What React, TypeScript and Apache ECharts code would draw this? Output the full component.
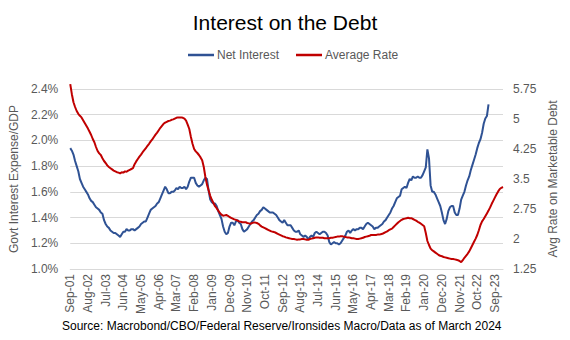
import React, { useEffect, useRef } from "react";
import * as echarts from "echarts";

const MONTHS = ["Jan", "Feb", "Mar", "Apr", "May", "Jun", "Jul", "Aug", "Sep", "Oct", "Nov", "Dec"];
const START_YEAR = 2001;
const START_MONTH = 8; // Sep
const N_MONTHS = 270; // Sep-01 .. Feb-24

const categories: string[] = [];
for (let k = 0; k < N_MONTHS; k++) {
  const m = (START_MONTH + k) % 12;
  const y = START_YEAR + Math.floor((START_MONTH + k) / 12);
  categories.push(`${MONTHS[m]}-${String(y % 100).padStart(2, "0")}`);
}

// Net interest / GDP (%), monthly from Sep-01
const netInterest = [
  1.94, 1.92, 1.89, 1.84, 1.80, 1.76, 1.70, 1.67, 1.64, 1.62, 1.60, 1.58,
  1.55, 1.53, 1.52, 1.50, 1.48, 1.47, 1.46, 1.44, 1.43, 1.38, 1.35, 1.33,
  1.32, 1.30, 1.29, 1.28, 1.28, 1.27, 1.26, 1.25, 1.27, 1.29, 1.29, 1.31,
  1.30, 1.30, 1.31, 1.31, 1.30, 1.31, 1.32, 1.33, 1.35, 1.36, 1.37, 1.37,
  1.40, 1.43, 1.46, 1.47, 1.48, 1.49, 1.51, 1.52, 1.55, 1.58, 1.61, 1.64,
  1.62, 1.59, 1.59, 1.60, 1.60, 1.61, 1.63, 1.62, 1.64, 1.63, 1.63, 1.64,
  1.62, 1.64, 1.68, 1.71, 1.71, 1.71, 1.67, 1.65, 1.64, 1.65, 1.66, 1.69,
  1.71, 1.70, 1.61, 1.54, 1.52, 1.51, 1.51, 1.49, 1.45, 1.42, 1.39, 1.33,
  1.29, 1.27, 1.28, 1.33, 1.36, 1.36, 1.34, 1.37, 1.38, 1.36, 1.35, 1.31,
  1.29, 1.30, 1.31, 1.33, 1.35, 1.37, 1.38, 1.40, 1.42, 1.43, 1.45, 1.46,
  1.48, 1.47, 1.46, 1.45, 1.44, 1.44, 1.44, 1.43, 1.42, 1.40, 1.38, 1.37,
  1.36, 1.38, 1.36, 1.34, 1.34, 1.34, 1.32, 1.30, 1.29, 1.29, 1.30, 1.27,
  1.26, 1.25, 1.26, 1.25, 1.23, 1.25, 1.26, 1.25, 1.28, 1.29, 1.28, 1.27,
  1.28, 1.29, 1.29, 1.28, 1.26, 1.21, 1.19, 1.20, 1.21, 1.20, 1.20, 1.19,
  1.20, 1.22, 1.24, 1.26, 1.29, 1.30, 1.28, 1.30, 1.31, 1.30, 1.31, 1.31,
  1.32, 1.32, 1.31, 1.33, 1.35, 1.36, 1.35, 1.34, 1.33, 1.31, 1.32, 1.32,
  1.33, 1.34, 1.35, 1.37, 1.38, 1.40, 1.42, 1.44, 1.47, 1.49, 1.52, 1.55,
  1.56, 1.57, 1.62, 1.63, 1.64, 1.63, 1.67, 1.70, 1.69, 1.72, 1.71, 1.71,
  1.72, 1.71, 1.71, 1.73, 1.76, 1.79, 1.93, 1.86, 1.65, 1.60, 1.60, 1.58,
  1.55, 1.52, 1.49, 1.44, 1.38, 1.35, 1.39, 1.45, 1.48, 1.49, 1.49, 1.44,
  1.42, 1.42, 1.47, 1.54, 1.57, 1.60, 1.65, 1.69, 1.72, 1.77, 1.81, 1.85,
  1.89, 1.94, 1.98, 2.01, 2.06, 2.13, 2.17, 2.19, 2.28,
];

// Average rate on marketable debt (%), monthly from Sep-01
const averageRate = [
  5.87, 5.62, 5.42, 5.30, 5.20, 5.13, 5.08, 5.04, 4.97, 4.90, 4.83, 4.76,
  4.68, 4.60, 4.50, 4.42, 4.30, 4.20, 4.14, 4.10, 4.02, 3.95, 3.90, 3.84,
  3.80, 3.77, 3.74, 3.71, 3.69, 3.67, 3.66, 3.64, 3.67, 3.66, 3.69, 3.68,
  3.71, 3.73, 3.75, 3.77, 3.87, 3.94, 4.00, 4.06, 4.11, 4.17, 4.22, 4.27,
  4.33, 4.38, 4.44, 4.49, 4.55, 4.61, 4.66, 4.72, 4.78, 4.83, 4.88, 4.91,
  4.93, 4.95, 4.96, 4.98, 4.99, 5.01, 5.03, 5.04, 5.04, 5.04, 5.03, 5.01,
  4.96, 4.86, 4.75, 4.55, 4.38, 4.25, 4.19, 4.15, 4.10, 4.04, 3.97, 3.80,
  3.55, 3.36, 3.22, 3.08, 2.98, 2.90, 2.82, 2.77, 2.71, 2.65, 2.61, 2.58,
  2.59, 2.60, 2.58, 2.55, 2.53, 2.51, 2.49, 2.48, 2.46, 2.44, 2.43, 2.42,
  2.42, 2.42, 2.40, 2.39, 2.38, 2.40, 2.41, 2.41, 2.40, 2.38, 2.34, 2.31,
  2.29, 2.27, 2.25, 2.23, 2.21, 2.19, 2.18, 2.17, 2.15, 2.13, 2.11, 2.09,
  2.07, 2.06, 2.04, 2.03, 2.02, 2.01, 2.00, 2.00, 1.99, 1.98, 1.99, 1.99,
  2.00, 2.00, 1.99, 1.98, 1.98, 2.00, 2.01, 2.02, 2.03, 2.04, 2.04, 2.03,
  2.03, 2.03, 2.02, 2.02, 2.02, 2.02, 2.03, 2.03, 2.04, 2.05, 2.06, 2.06,
  2.07, 2.07, 2.06, 2.05, 2.04, 2.04, 2.03, 2.02, 2.02, 2.01, 2.00, 2.00,
  2.01, 2.02, 2.03, 2.05, 2.06, 2.07, 2.08, 2.10, 2.10, 2.10, 2.10, 2.11,
  2.11, 2.12, 2.13, 2.15, 2.17, 2.19, 2.22, 2.24, 2.26, 2.30, 2.34, 2.38,
  2.42, 2.45, 2.48, 2.50, 2.51, 2.52, 2.53, 2.52, 2.52, 2.50, 2.48, 2.46,
  2.43, 2.41, 2.38, 2.35, 2.32, 2.15, 1.95, 1.85, 1.76, 1.72, 1.69, 1.66,
  1.63, 1.60, 1.58, 1.57, 1.55, 1.54, 1.53, 1.52, 1.51, 1.50, 1.50, 1.49,
  1.48, 1.47, 1.45, 1.42, 1.47, 1.53, 1.58, 1.63, 1.69, 1.77, 1.85, 1.93,
  2.01, 2.10, 2.22, 2.35, 2.44, 2.50, 2.57, 2.64, 2.71, 2.79, 2.88, 2.96,
  3.04, 3.12, 3.19, 3.25, 3.28, 3.30,
];

const rightTicks = [1.25, 2, 2.75, 3.5, 4.25, 5, 5.75];

const FONT = "'Liberation Sans', Arial, sans-serif";
const AXIS_COLOR = "#595959";
const GRID_COLOR = "#D9D9D9";
const BLUE = "#2F5294";
const RED = "#C00000";

export default function App() {
  const ref = useRef<HTMLDivElement>(null);

  useEffect(() => {
    document.body.style.margin = "0";
    if (!ref.current) return;
    const chart = echarts.init(ref.current, undefined, { renderer: "svg" });
    chart.setOption({
      animation: false,
      backgroundColor: "#ffffff",
      textStyle: { fontFamily: FONT },
      title: {
        text: "Interest on the Debt",
        left: "center",
        top: 7,
        textStyle: { fontFamily: FONT, fontSize: 21, fontWeight: "normal", color: "#000000" },
      },
      legend: {
        top: 44,
        left: 183,
        itemWidth: 26,
        itemHeight: 2.5,
        itemGap: 17,
        textStyle: { fontFamily: FONT, fontSize: 12, color: AXIS_COLOR, padding: [0, 0, 0, -2] },
        data: [
          { name: "Net Interest", icon: "rect" },
          { name: "Average Rate", icon: "rect" },
        ],
      },
      grid: { left: 69, right: 67, top: 89, bottom: 71 },
      xAxis: {
        type: "category",
        boundaryGap: false,
        data: categories,
        axisLine: { lineStyle: { color: GRID_COLOR } },
        axisTick: { show: false },
        axisLabel: {
          interval: 10,
          rotate: 90,
          fontSize: 12,
          color: AXIS_COLOR,
          fontFamily: FONT,
          margin: 5,
        },
      },
      yAxis: [
        {
          type: "value",
          min: 1.0,
          max: 2.4,
          interval: 0.2,
          axisLine: { show: false },
          axisTick: { show: false },
          splitLine: { lineStyle: { color: GRID_COLOR } },
          axisLabel: {
            formatter: (v: number) => v.toFixed(1) + "%",
            fontSize: 12,
            color: AXIS_COLOR,
            fontFamily: FONT,
            margin: 12,
          },
          name: "Govt Interest Expense/GDP",
          nameLocation: "middle",
          nameRotate: 90,
          nameGap: 40,
          nameTextStyle: { fontSize: 12, color: AXIS_COLOR, fontFamily: FONT },
        },
        {
          type: "value",
          position: "right",
          min: 1.25,
          max: 5.75,
          axisLine: { show: false },
          axisTick: { show: false },
          splitLine: { show: false },
          axisLabel: {
            customValues: rightTicks,
            formatter: (v: number) => String(v),
            fontSize: 12,
            color: AXIS_COLOR,
            fontFamily: FONT,
            margin: 10,
          },
          name: "Avg Rate on Marketable Debt",
          nameLocation: "middle",
          nameRotate: 90,
          nameGap: 36,
          nameTextStyle: { fontSize: 12, color: AXIS_COLOR, fontFamily: FONT },
        },
      ],
      series: [
        {
          name: "Net Interest",
          type: "line",
          yAxisIndex: 0,
          data: netInterest,
          symbol: "none",
          clip: false,
          lineStyle: { width: 2, color: BLUE },
          itemStyle: { color: BLUE },
        },
        {
          name: "Average Rate",
          type: "line",
          yAxisIndex: 1,
          data: averageRate,
          symbol: "none",
          clip: false,
          lineStyle: { width: 2, color: RED },
          itemStyle: { color: RED },
        },
      ],
      graphic: [
        {
          type: "text",
          left: 62,
          top: 320,
          style: {
            text: "Source: Macrobond/CBO/Federal Reserve/Ironsides Macro/Data as of March 2024",
            fontFamily: FONT,
            fontSize: 12,
            fill: "#000000",
          },
        },
      ],
    });
    return () => chart.dispose();
  }, []);

  return <div ref={ref} style={{ width: 570, height: 340 }} />;
}
